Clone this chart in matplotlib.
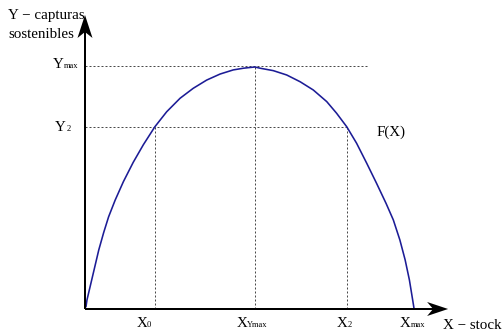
import matplotlib.pyplot as plt
import matplotlib.transforms as mtransforms
from matplotlib.patches import Polygon

plt.rcParams['font.family'] = ['Liberation Serif', 'DejaVu Serif']

# curva F(X): stock (0-100) contra capturas sostenibles (0-100)
stock = [0.3, 0.6, 1.8, 3.0, 4.2, 5.7, 7.2, 9.2, 11.7, 14.7, 17.8, 21.3, 24.9,
         29.0, 33.0, 37.1, 41.2, 45.2, 48.3, 50.3, 51.8, 53.4, 57.4, 61.5, 65.6,
         69.6, 73.7, 76.7, 79.8, 82.8, 85.9, 88.9, 91.8, 94.0, 96.0, 97.6, 98.9,
         99.9, 100.3]
capturas = [0.9, 3.7, 10.6, 17.5, 24.4, 31.6, 38.1, 45.0, 52.6, 60.6, 67.9, 75.3,
            81.5, 87.1, 91.2, 94.6, 97.1, 98.8, 99.5, 99.8, 100.0, 99.5, 98.5,
            96.7, 93.9, 90.5, 85.7, 80.9, 75.3, 68.5, 60.2, 51.9, 43.6, 36.8, 28.5,
            20.3, 12.0, 3.7, 0.3]

# valores marcados en los ejes
x0, x_ymax, x2, x_max = 21.3, 51.8, 79.8, 100.0
y2, y_max = 75.3, 100.0

fig = plt.figure(figsize=(502 / 72, 330 / 72), dpi=72)
ax = fig.add_axes([0, 0, 1, 1])
ax.set_xlim(-25.91, 127.13)
ax.set_ylim(-8.68, 127.69)
ax.axis('off')

# lineas punteadas de referencia
dot = dict(color='#4a4a4a', lw=1, ls=(0, (2, 2)))
ax.plot([0, 86.3], [y_max + 0.4, y_max + 0.4], **dot)
ax.plot([0, x2], [y2, y2], **dot)
ax.plot([x0, x0], [0, y2], **dot)
ax.plot([x_ymax, x_ymax], [0, y_max], **dot)
ax.plot([x2, x2], [0, y2], **dot)

# curva
ax.plot(stock, capturas, color='#1c1c96', lw=1.6, solid_capstyle='round',
        solid_joinstyle='round')

# ejes con flecha
x_tip, y_tip = 110.7, 121.5
ax.plot([0, 0], [0, 118.0], color='black', lw=2, solid_capstyle='butt')
ax.plot([0, 106.2], [0, 0], color='black', lw=2, solid_capstyle='butt')


def arrow_head(x, y, verts):
    tr = fig.dpi_scale_trans + mtransforms.ScaledTranslation(x, y, ax.transData)
    ax.add_patch(Polygon([(a / 72, b / 72) for a, b in verts], closed=True,
                         transform=tr, color='black', lw=0))


arrow_head(x_tip, 0, [(0, 0), (-21, 7), (-15, 0), (-21, -7)])
arrow_head(0, y_tip, [(0, 0), (-7.5, -23), (0, -17), (7.5, -23)])


def txt(s, x, y, size=15):
    # x, y en pixeles desde la esquina superior izquierda; y = linea base
    ax.annotate(s, xy=(x, 330 - y), xycoords='figure pixels', fontsize=size,
                ha='left', va='baseline')


txt('Y − capturas', 8, 19)
txt('sostenibles', 8, 37.5)
txt('X − stock', 443, 329)
txt('F(X)', 377, 136)

txt('Y', 53, 68)
txt('max', 64, 68, 8.5)
txt('Y', 55, 131)
txt('2', 67, 131, 8.5)

txt('X', 137, 327)
txt('0', 147, 327, 8.5)
txt('X', 237, 327)
txt('Ymax', 247, 327, 8.5)
txt('X', 337, 327)
txt('2', 348, 327, 8.5)
txt('X', 400, 327)
txt('max', 410.5, 327, 8.5)

fig.savefig('out.png', dpi=72)
